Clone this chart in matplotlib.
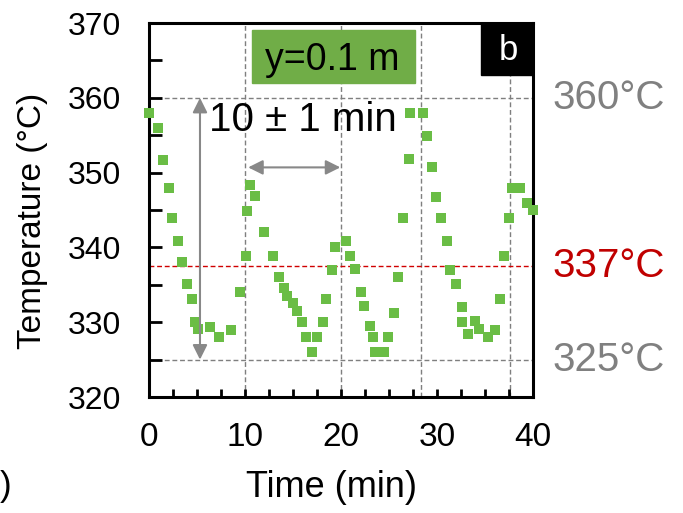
# temperatura na posicao y=0.1 m ao longo do tempo (ciclos de ~10 min)
# salva o grafico em out.png

import matplotlib
matplotlib.use('Agg')
import matplotlib.pyplot as plt
from matplotlib.ticker import MultipleLocator
from matplotlib.patches import Rectangle
from matplotlib.transforms import blended_transform_factory

plt.rcParams['font.family'] = ['Liberation Sans', 'DejaVu Sans']

# dados (tempo em min, temperatura em graus C)
tempo = [0.0, 0.87, 1.46, 2.02, 2.40, 2.95, 3.37, 3.93, 4.48, 4.76, 5.10,
         6.32, 7.29, 8.51, 9.45, 10.04, 10.20, 10.49, 10.98,
         11.95, 12.85, 13.48, 14.06, 14.38, 15.00, 15.35, 15.94, 16.29,
         16.92, 17.44, 18.06, 18.41, 19.00, 19.34,
         20.49, 20.88, 21.46, 22.05, 22.40, 22.99, 23.33, 23.51, 24.45,
         24.90, 25.49, 25.94, 26.40, 27.02, 27.16,
         28.48, 28.90, 29.45, 29.83, 30.42, 30.98, 31.35, 31.98, 32.54,
         32.54, 33.23, 33.93, 34.38, 35.30, 36.00, 36.53, 36.95, 37.50,
         37.75, 38.60, 39.31, 39.94]
temperatura = [358.0, 355.9, 351.7, 347.9, 344.0, 340.8, 338.0, 335.1, 333.1, 330.0, 329.1,
               329.3, 328.0, 329.0, 334.1, 338.9, 344.9, 348.4, 346.9,
               342.0, 338.8, 336.1, 334.6, 333.5, 332.6, 331.5, 330.0, 328.0,
               326.0, 328.0, 330.0, 333.1, 337.0, 340.0,
               340.8, 338.8, 337.1, 334.1, 332.2, 329.5, 328.0, 326.0, 326.0,
               328.0, 331.2, 336.0, 344.0, 351.8, 358.0,
               358.0, 354.9, 350.8, 346.8, 344.0, 340.8, 337.0, 335.1, 332.1,
               330.0, 328.4, 330.2, 329.1, 328.0, 329.0, 333.1, 338.9, 344.0,
               348.0, 348.0, 346.0, 345.0]

# linhas de referencia
picos = [9.97, 19.94, 28.27, 37.57]
temp_max = 360
temp_media = 337.5
temp_min = 325

fig = plt.figure(figsize=(6.83, 5.13), dpi=100)
ax = fig.add_axes([0.2186, 0.2261, 0.5622, 0.729])

cinza = '#7f7f7f'
for p in picos:
    ax.axvline(p, color=cinza, lw=1, dashes=(3.5, 2), zorder=1)
ax.axhline(temp_max, color=cinza, lw=1, dashes=(3.5, 2), zorder=1)
ax.axhline(temp_min, color=cinza, lw=1, dashes=(3.5, 2), zorder=1)
ax.axhline(temp_media, color='#d00000', lw=1, dashes=(3.5, 2), zorder=1)

ax.plot(tempo, temperatura, 's', color='#6abd45', markersize=7.4,
        markeredgewidth=0, clip_on=False, zorder=3)

# setas do periodo e da amplitude
ax.annotate('', xy=(5.28, temp_min), xytext=(5.28, temp_max),
            arrowprops=dict(arrowstyle='<|-|>', color='#888888', lw=1.5,
                            mutation_scale=22, shrinkA=0, shrinkB=0))
ax.annotate('', xy=(10.3, 350.7), xytext=(19.9, 350.7),
            arrowprops=dict(arrowstyle='<|-|>', color='#888888', lw=1.5,
                            mutation_scale=22, shrinkA=0, shrinkB=0))
ax.text(16.0, 355.6, '10 \u00b1 1 min', fontsize=29, ha='center', va='baseline', zorder=4)

# caixas de titulo
ax.add_patch(Rectangle((10.67, 362.0), 17.03, 7.1, color='#70ad47', zorder=4))
ax.text(19.1, 363.7, 'y=0.1 m', fontsize=27, ha='center', va='baseline', zorder=5)
ax.add_patch(Rectangle((34.6, 363.1), 5.4, 6.9, color='black', zorder=4, clip_on=False))
ax.text(37.4, 365.0, 'b', fontsize=25, color='white', ha='center', va='baseline', zorder=5)

# rotulos a direita
trans = blended_transform_factory(ax.transAxes, ax.transData)
ax.text(1.05, temp_max, '360\u00b0C', fontsize=29, color='#808080', transform=trans,
        ha='left', va='center')
ax.text(1.05, temp_media, '337\u00b0C', fontsize=29, color='#c00000', transform=trans,
        ha='left', va='center')
ax.text(1.05, temp_min, '325\u00b0C', fontsize=29, color='#808080', transform=trans,
        ha='left', va='center')

ax.set_xlim(0, 40)
ax.set_ylim(320, 370)
ax.xaxis.set_major_locator(MultipleLocator(10))
ax.xaxis.set_minor_locator(MultipleLocator(2.5))
ax.yaxis.set_major_locator(MultipleLocator(10))
ax.yaxis.set_minor_locator(MultipleLocator(5))
ax.tick_params(axis='both', which='both', direction='in', width=2, labelsize=23)
ax.tick_params(axis='x', which='both', length=6, pad=18, labelsize=24)
ax.tick_params(axis='y', which='both', length=9, pad=20)

for lado in ['left', 'right', 'top', 'bottom']:
    ax.spines[lado].set_linewidth(2.2)

ax.set_xlabel('Time (min)', fontsize=26)
ax.set_ylabel('Temperature (\u00b0C)', fontsize=24)
ax.xaxis.set_label_coords(0.475, -0.195)
ax.yaxis.set_label_coords(-0.265, 0.47)

fig.text(0.0, 0.02, ')', fontsize=25, ha='left', va='bottom')

fig.savefig('out.png', dpi=100)
